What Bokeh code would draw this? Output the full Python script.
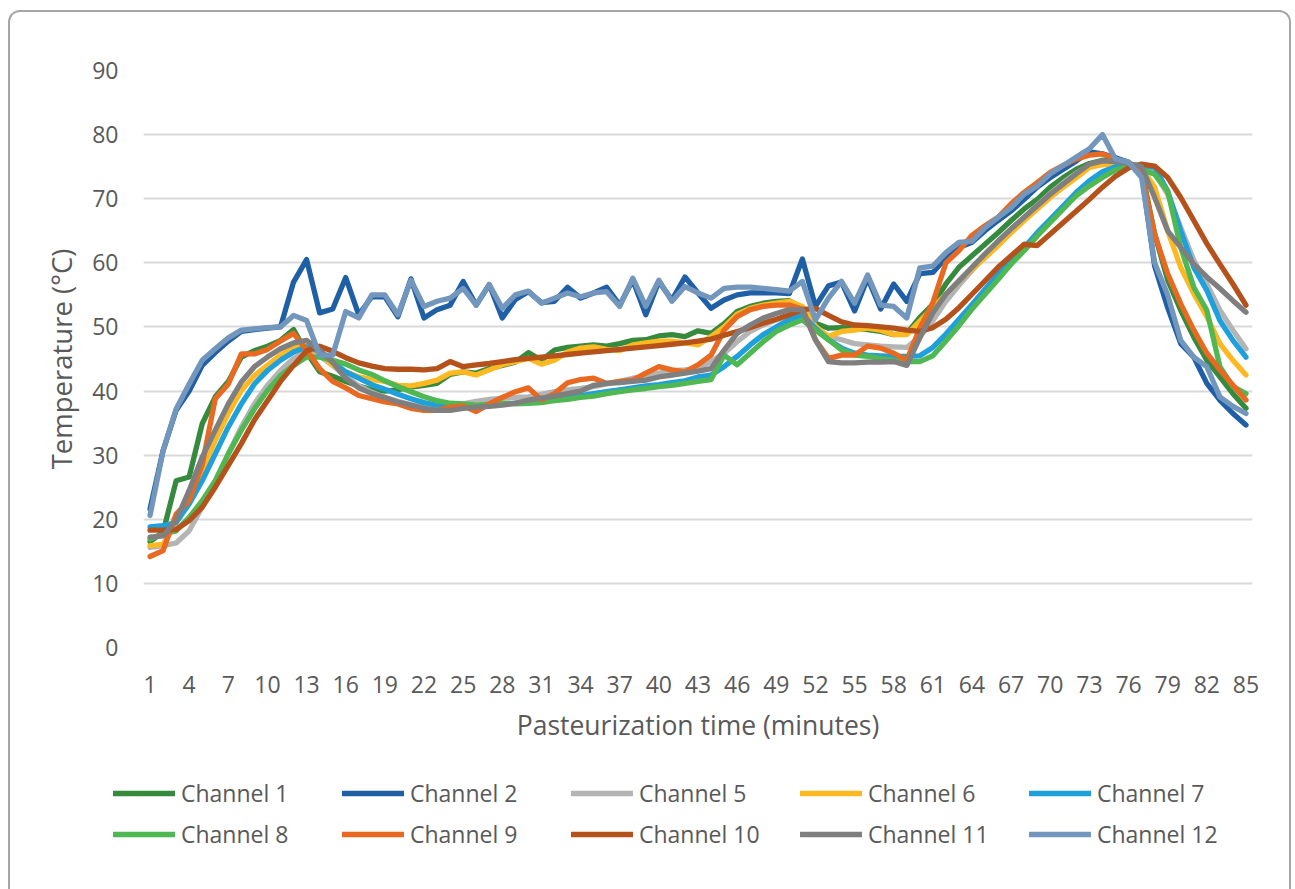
from bokeh.plotting import figure
from bokeh.layouts import column, row
from bokeh.models import Legend, LegendItem, FixedTicker, Range1d
from bokeh.embed import file_html
from bokeh.resources import INLINE

minutes = list(range(1, 86))

ch1 = [16.5, 18.0, 26.0, 26.6, 34.9, 39.1, 41.5, 45.3, 46.3, 47.0,
       47.9, 49.6, 46.0, 43.0, 42.3, 41.5, 40.8, 40.2, 40.0, 40.2,
       40.6, 40.9, 41.2, 42.6, 43.0, 42.8, 43.5, 44.0, 44.5, 46.0,
       44.8, 46.4, 46.8, 47.0, 47.2, 47.0, 47.4, 47.9, 48.0, 48.6,
       48.8, 48.5, 49.4, 49.0, 50.5, 52.4, 53.2, 53.7, 54.0, 54.1,
       52.9, 50.6, 49.8, 49.9, 49.8, 49.6, 49.3, 48.8, 49.0, 51.5,
       53.5, 56.7, 59.3, 61.1, 62.9, 64.7, 66.6, 68.4, 69.9, 71.8,
       73.3, 74.6, 75.5, 76.0, 75.8, 75.5, 74.5, 64.5, 57.3, 52.6,
       48.4, 44.8, 42.2, 39.6, 37.3]

ch2 = [21.6, 30.7, 37.0, 40.0, 44.0, 46.0, 47.8, 49.3, 49.6, 49.8,
       50.0, 57.0, 60.5, 52.2, 52.8, 57.7, 51.9, 54.7, 54.7, 51.6,
       57.5, 51.4, 52.7, 53.4, 57.1, 53.4, 56.6, 51.4, 54.3, 55.5,
       53.8, 54.0, 56.2, 54.5, 55.3, 56.2, 53.4, 57.3, 51.9, 57.1,
       54.2, 57.8, 55.3, 52.9, 54.2, 55.0, 55.3, 55.3, 55.3, 55.2,
       60.6, 53.2, 56.4, 57.0, 52.5, 57.6, 52.8, 56.7, 54.0, 58.3,
       58.5, 60.8, 62.4, 63.2, 65.0, 66.6, 68.1, 69.9, 71.8, 73.3,
       74.6, 75.9, 77.3, 77.0, 76.4, 75.7, 74.0, 59.5, 53.0, 47.4,
       45.3, 41.2, 38.6, 36.5, 34.7]

ch5 = [15.6, 15.9, 16.3, 18.2, 21.9, 26.0, 30.2, 34.4, 38.0, 40.9,
       43.2, 45.1, 46.4, 45.5, 44.0, 42.3, 40.8, 39.8, 39.0, 38.4,
       37.9, 37.5, 37.3, 37.6, 38.0, 38.4, 38.7, 38.9, 39.0, 39.1,
       39.5, 39.9, 40.2, 40.4, 40.7, 41.1, 41.5, 42.0, 42.3, 42.8,
       43.2, 43.3, 43.5, 44.6, 45.9, 47.7, 49.3, 50.3, 51.1, 51.7,
       51.9, 49.5, 48.5, 48.0, 47.4, 47.2, 47.0, 46.9, 46.8, 48.5,
       51.0, 54.0, 56.5, 58.8, 61.0, 63.0, 65.0, 67.0, 69.0, 70.8,
       72.5, 74.0, 75.2, 75.6, 75.6, 75.4, 75.0, 74.0, 70.7, 65.5,
       60.4, 56.7, 52.6, 49.5, 46.6]

ch6 = [15.9, 16.1, 19.5, 22.9, 27.6, 32.3, 36.5, 40.1, 42.4, 44.0,
       45.6, 46.9, 47.1, 45.8, 44.0, 43.0, 42.2, 41.8, 41.5, 40.9,
       40.8, 41.2, 41.7, 42.8, 43.0, 42.5, 43.3, 44.1, 44.6, 45.1,
       44.2, 44.8, 46.1, 46.7, 46.9, 46.5, 46.3, 47.2, 47.5, 47.8,
       47.8, 47.5, 47.2, 48.5, 50.0, 52.0, 52.9, 53.4, 53.7, 54.0,
       53.2, 50.1, 48.5, 49.3, 49.5, 49.8, 49.5, 48.8, 48.8, 50.9,
       53.0, 55.1, 57.2, 59.0, 60.8, 62.7, 64.7, 66.6, 68.4, 70.2,
       71.8, 73.3, 74.9, 75.3, 75.5, 75.5, 74.8, 71.8, 65.0, 59.3,
       55.2, 51.6, 47.4, 44.8, 42.5]

ch7 = [18.8, 19.0, 19.5, 22.4, 26.0, 30.2, 34.4, 38.0, 41.1, 43.2,
       44.8, 46.1, 46.9, 46.2, 44.5, 43.0, 42.0, 41.0, 40.3, 39.5,
       38.8, 38.2, 37.8, 37.6, 37.6, 37.7, 37.8, 38.0, 38.1, 38.3,
       38.5, 38.8, 39.0, 39.3, 39.6, 39.9, 40.2, 40.5, 40.8, 41.0,
       41.3, 41.6, 42.2, 42.5, 43.8, 45.4, 47.2, 48.8, 50.0, 51.1,
       51.9, 49.8, 48.0, 46.7, 45.9, 45.6, 45.5, 45.4, 45.4, 45.5,
       46.8, 48.9, 51.2, 53.5, 55.9, 58.2, 60.3, 62.4, 64.7, 66.8,
       68.9, 71.0, 72.8, 74.2, 75.0, 75.3, 75.2, 74.9, 71.2, 65.0,
       59.3, 55.7, 51.0, 47.9, 45.3]

ch8 = [16.9, 17.7, 18.2, 20.3, 22.9, 26.0, 30.2, 33.9, 37.2, 40.1,
       42.4, 44.0, 45.3, 45.3, 44.8, 44.2, 43.3, 42.6, 41.6, 40.7,
       39.9, 39.1, 38.5, 38.1, 38.0, 37.8, 37.9, 38.1, 38.0, 38.1,
       38.2, 38.5, 38.7, 39.0, 39.2, 39.6, 39.9, 40.2, 40.4, 40.7,
       40.9, 41.2, 41.5, 41.8, 45.6, 44.1, 45.9, 47.7, 49.3, 50.3,
       51.1, 49.5, 48.0, 46.4, 45.6, 45.4, 45.1, 44.8, 44.6, 44.6,
       45.5, 47.8, 50.2, 52.8, 55.1, 57.4, 59.8, 61.9, 64.2, 66.3,
       68.4, 70.5, 72.0, 73.3, 74.5, 75.0, 74.6, 73.8, 71.2, 62.4,
       56.2, 52.6, 43.8, 40.7, 39.6]

ch9 = [14.2, 15.1, 20.8, 22.9, 28.5, 38.8, 41.1, 45.8, 45.8, 46.5,
       47.8, 49.0, 46.4, 43.5, 41.5, 40.5, 39.3, 38.8, 38.3, 38.0,
       37.3, 37.0, 37.0, 37.5, 37.7, 36.8, 38.0, 39.0, 39.9, 40.5,
       38.6, 39.6, 41.3, 41.8, 42.0, 41.2, 41.5, 41.7, 42.8, 43.8,
       43.3, 43.0, 44.1, 45.6, 49.5, 51.6, 52.7, 53.2, 53.4, 53.4,
       52.8, 48.0, 45.1, 45.6, 45.6, 47.0, 46.7, 45.9, 44.8, 49.8,
       53.8, 60.0, 61.9, 64.3, 65.8, 67.1, 69.2, 71.0, 72.5, 74.1,
       75.2, 76.2, 76.8, 77.0, 76.2, 75.6, 74.0, 64.5, 58.3, 53.6,
       49.5, 45.9, 43.3, 40.9, 38.6]

ch10 = [18.3, 18.3, 18.4, 19.8, 21.9, 25.0, 28.4, 31.8, 35.5, 38.5,
        41.5, 44.0, 46.3, 47.0, 46.2, 45.2, 44.4, 43.9, 43.5, 43.4,
        43.4, 43.3, 43.5, 44.6, 43.8, 44.1, 44.3, 44.6, 44.9, 45.1,
        45.3, 45.5, 45.7, 45.9, 46.1, 46.3, 46.5, 46.7, 46.9, 47.1,
        47.3, 47.5, 47.8, 48.1, 48.7, 49.3, 49.9, 50.6, 51.2, 51.9,
        52.7, 52.9, 51.8, 50.8, 50.3, 50.2, 50.0, 49.8, 49.5, 49.3,
        49.9, 51.2, 53.0, 55.1, 57.2, 59.3, 61.1, 62.9, 62.7, 64.5,
        66.3, 68.1, 69.9, 71.8, 73.5, 74.8, 75.4, 75.1, 73.3, 70.2,
        66.6, 63.0, 59.8, 56.7, 53.4]

ch11 = [17.2, 17.4, 19.8, 24.5, 29.7, 33.9, 38.0, 41.4, 43.8, 45.3,
        46.6, 47.5, 47.9, 46.4, 44.5, 42.0, 40.5, 39.6, 39.0, 38.3,
        37.8, 37.3, 37.0, 37.0, 37.3, 37.5, 37.6, 37.8, 38.1, 38.6,
        38.9, 39.2, 39.6, 40.0, 40.9, 41.2, 41.3, 41.5, 41.7, 42.2,
        42.5, 42.8, 43.1, 43.5, 46.4, 49.0, 50.3, 51.4, 52.1, 52.7,
        52.7, 48.0, 44.6, 44.4, 44.4, 44.5, 44.5, 44.6, 44.0, 48.3,
        52.2, 55.1, 57.2, 59.3, 61.4, 63.4, 65.3, 67.1, 68.9, 70.7,
        72.3, 73.9, 75.4, 75.9, 75.8, 75.5, 75.0, 70.2, 65.0, 62.4,
        59.8, 57.8, 56.0, 54.1, 52.3]

ch12 = [20.6, 30.7, 37.2, 41.1, 44.8, 46.6, 48.3, 49.5, 49.7, 49.9,
        50.0, 51.8, 51.0, 45.6, 45.6, 52.4, 51.4, 55.0, 55.0, 51.9,
        57.3, 53.2, 54.0, 54.5, 56.0, 53.4, 56.6, 52.9, 55.0, 55.6,
        53.7, 54.5, 55.3, 54.7, 55.3, 55.5, 53.2, 57.6, 53.2, 57.3,
        54.0, 56.3, 55.3, 54.5, 56.0, 56.2, 56.2, 56.0, 55.8, 55.6,
        57.1, 51.1, 54.5, 57.1, 53.7, 58.1, 53.4, 53.2, 51.4, 59.2,
        59.5, 61.6, 63.2, 63.4, 65.5, 67.1, 68.6, 70.7, 72.0, 73.9,
        75.2, 76.5, 77.8, 80.0, 76.2, 75.7, 73.3, 60.0, 55.0, 47.9,
        45.3, 43.8, 39.1, 37.6, 36.5]

series_names = ["Channel 1", "Channel 2", "Channel 5", "Channel 6", "Channel 7",
                "Channel 8", "Channel 9", "Channel 10", "Channel 11", "Channel 12"]
series_values = [ch1, ch2, ch5, ch6, ch7, ch8, ch9, ch10, ch11, ch12]
series_colors = ["#368A3E", "#1E5FA6", "#B4B4B4", "#FDB822", "#1EA0DC",
                 "#4FB853", "#E8691F", "#B5521B", "#7F7F7F", "#7397BC"]

y_ticks = [0, 10, 20, 30, 40, 50, 60, 70, 80, 90]
x_ticks = list(range(1, 86, 3))

FONT = "Open Sans"
GREY = "#595959"
W = 1279
H_MAIN = 760
H_LEG = 117

p = figure(width=W, height=H_MAIN, output_backend="svg", toolbar_location=None,
           x_range=Range1d(0.5, 85.5), y_range=Range1d(0, 90),
           min_border_left=133, min_border_right=37, min_border_top=58,
           min_border_bottom=125)
p.outline_line_color = None
p.background_fill_color = "white"
p.border_fill_color = "white"

line_style = dict(line_width=5.3, line_join="round", line_cap="round")
for name, vals, col in zip(series_names, series_values, series_colors):
    p.line(minutes, vals, line_color=col, **line_style)

p.xgrid.grid_line_color = None
p.ygrid.grid_line_color = "#D9D9D9"
p.ygrid.grid_line_width = 2
p.ygrid.ticker = FixedTicker(ticks=y_ticks)

p.yaxis.ticker = FixedTicker(ticks=y_ticks)
p.xaxis.ticker = FixedTicker(ticks=x_ticks)
for ax in (p.xaxis[0], p.yaxis[0]):
    ax.axis_line_color = None
    ax.major_tick_line_color = None
    ax.minor_tick_line_color = None
    ax.major_tick_out = 0
    ax.major_tick_in = 0
    ax.minor_tick_out = 0
    ax.major_label_text_font = FONT
    ax.major_label_text_font_size = "23px"
    ax.major_label_text_color = GREY
    ax.axis_label_text_font = FONT
    ax.axis_label_text_font_style = "normal"
    ax.axis_label_text_color = GREY

p.xaxis.axis_label = "Pasteurization time (minutes)"
p.yaxis.axis_label = "Temperature (°C)"
p.xaxis.axis_label_text_font_size = "26.5px"
p.yaxis.axis_label_text_font_size = "27.5px"
p.xaxis.major_label_standoff = 28
p.xaxis.axis_label_standoff = 11
p.yaxis.major_label_standoff = 25
p.yaxis.axis_label_standoff = 9

# Legend strip: same series, kept outside its (hidden) ranges so only the key shows
lf = figure(width=W, height=H_LEG, output_backend="svg", toolbar_location=None,
            x_range=Range1d(0.5, 85.5), y_range=Range1d(1000, 1001),
            x_axis_location=None, y_axis_location=None,
            min_border_left=0, min_border_right=0, min_border_top=0,
            min_border_bottom=0)
lf.outline_line_color = None
lf.xgrid.grid_line_color = None
lf.ygrid.grid_line_color = None
leg_renderers = []
for name, vals, col in zip(series_names, series_values, series_colors):
    leg_renderers.append(lf.line(minutes, vals, line_color=col, **line_style))

def make_legend(idx, vy):
    items = [LegendItem(label=series_names[i], renderers=[leg_renderers[i]]) for i in idx]
    return Legend(items=items, orientation="horizontal", location=(103, vy),
                  glyph_width=62, glyph_height=20, label_standoff=6,
                  label_width=150, spacing=11, padding=0, margin=0,
                  label_text_font=FONT, label_text_font_size="23px",
                  label_text_color=GREY, border_line_color=None,
                  background_fill_alpha=0)

lf.add_layout(make_legend([0, 1, 2, 3, 4], 80))
lf.add_layout(make_legend([5, 6, 7, 8, 9], 39))

layout = column(p, row(lf, spacing=0), spacing=0)
layout.styles = {"border": "2px solid #A6A6A6", "border-bottom": "none",
                 "border-top-left-radius": "12px", "border-top-right-radius": "12px",
                 "margin-left": "8px", "margin-top": "10px",
                 "overflow": "hidden"}

open("out.html", "w").write(file_html(layout, INLINE))
